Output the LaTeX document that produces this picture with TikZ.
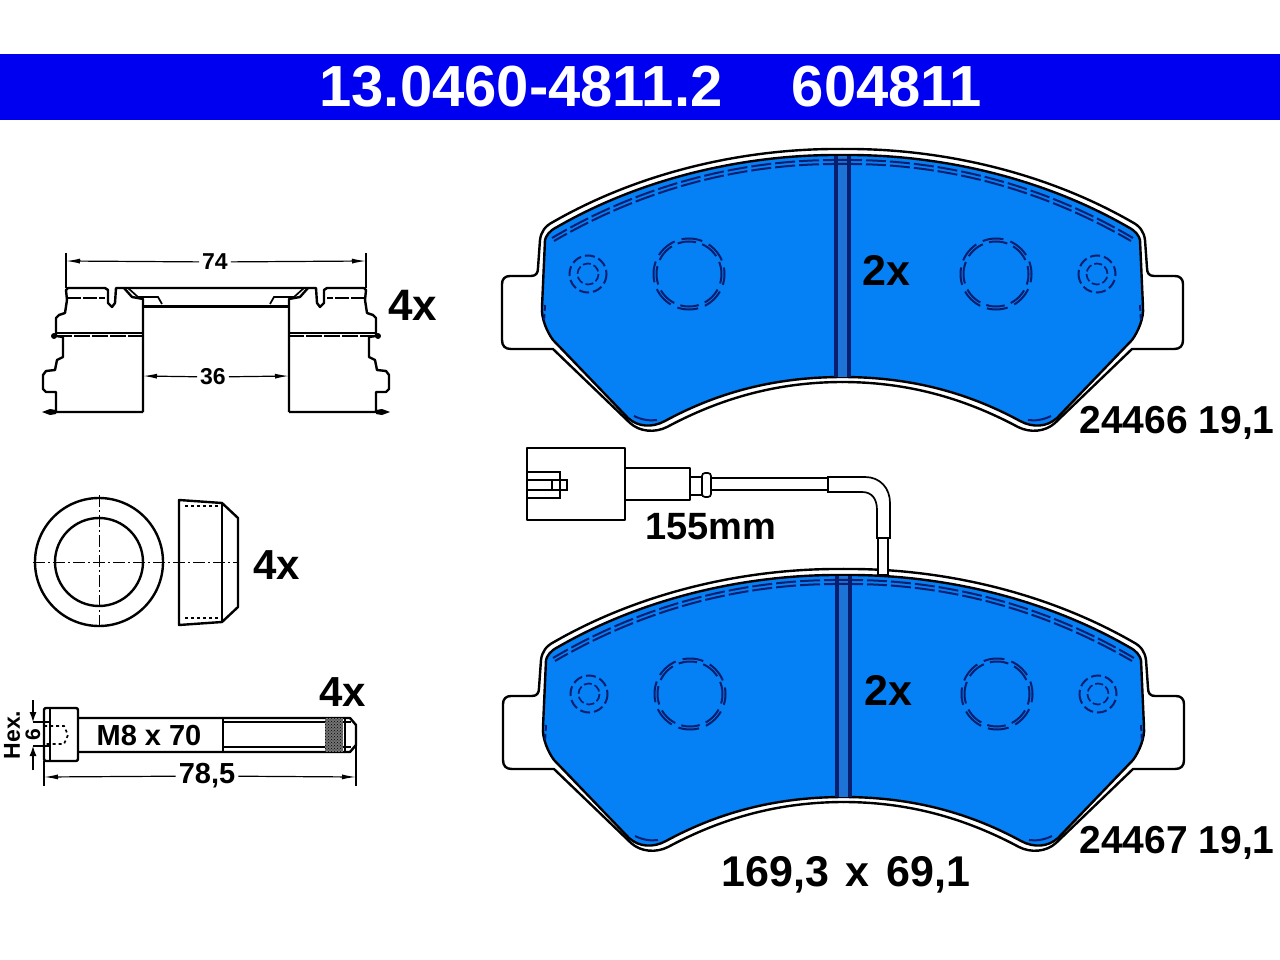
\documentclass[tikz,border=0pt]{standalone}
\usepackage{fontspec}
\setmainfont{Liberation Sans}
\usetikzlibrary{arrows.meta}
\usetikzlibrary{patterns}

\definecolor{bandblue}{RGB}{0,0,240}
\definecolor{padblue}{RGB}{5,128,245}
\definecolor{grooveblue}{RGB}{30,115,215}
\definecolor{navy}{RGB}{8,30,110}

\newcommand{\bigfont}[1]{\fontsize{#1}{#1}\selectfont\bfseries}

\tikzset{
    part/.style={draw=black,line width=2.4pt,line join=round},
    thin part/.style={draw=black,line width=1.7pt},
    dimline/.style={draw=black,line width=1.2pt,-{Latex[length=14pt,width=5pt]}},
    extline/.style={draw=black,line width=1.2pt},
    centerline/.style={draw=black,line width=1pt,dash pattern=on 12pt off 3pt on 2pt off 3pt},
    padmark/.style={draw=navy,line width=2pt},
    title/.style={font=\bigfont{58},text=white,inner sep=0pt},
    lbl/.style={font=\bigfont{#1},inner sep=0pt},
    dimlbl/.style={font=\bigfont{#1},inner sep=3pt},
}

% left half of a pad, the right one is its mirror image
\newcommand{\padbody}{
    \draw[part,fill=white] (843,149) .. controls (745,148) and (640,172) .. (553,222)
        .. controls (545,226) and (541,232) .. (540,240) -- (538,268)
        .. controls (538,273) and (536,276) .. (531,276) -- (510,276)
        .. controls (505,276) and (502,279) .. (502,284) -- (502,340)
        .. controls (502,346) and (505,349) .. (511,349) -- (553,349) -- (630,423)
        .. controls (640,432) and (655,433) .. (667,427)
        .. controls (723,397) and (780,382) .. (843,382);
    \draw[part,fill=padblue] (843,155) .. controls (745,154) and (642,178) .. (557,227)
        .. controls (549,231) and (546,236) .. (545,240) -- (542,307)
        .. controls (541,318) and (547,332) .. (553,340) -- (628,418)
        .. controls (638,427) and (652,428) .. (665,421)
        .. controls (722,390) and (780,377) .. (843,377);
}
\newcommand{\padmarks}{
    % rows along the top edge
    \draw[padmark,dash pattern=on 20pt off 4pt] (843,160) .. controls (745,159) and (645,183) .. (552,238);
    \draw[padmark,dash pattern=on 20pt off 4pt] (843,164) .. controls (745,163) and (647,187) .. (554,241);
    % edge and corner
    \draw[padmark,dash pattern=on 6pt off 3pt] (545,305) -- (544,322);
    \draw[padmark] (634,416) .. controls (642,420) and (650,421) .. (657,420);
    % big hole
    \draw[padmark,dash pattern=on 21pt off 7.3pt,dash phase=10pt] (689,274) circle[radius=35.5];
    \draw[padmark,dash pattern=on 18.6pt off 6.5pt,dash phase=9pt] (689,274) circle[radius=32.5];
    % small hole
    \draw[padmark,dash pattern=on 10pt off 4pt] (588,274) circle[radius=18.5];
    \draw[padmark,line width=1.7pt,dash pattern=on 8pt off 3pt] (588,274) circle[radius=10.5];
}

\begin{document}
\begin{tikzpicture}[x=1pt,y=-1pt]
    \useasboundingbox (0,0) rectangle (1280,960);
    % header
    \fill[bandblue] (0,54) rectangle (1280,120);
    \node[title] (partno) at (521,87) {13.0460-4811.2};
    \node[title] (refno) at (887,87) {604811};

    % pads
    \foreach \padx/\pady in {0/0,1/420} {
    \begin{scope}[shift={(\padx,\pady)}]
        \padbody
        \begin{scope}[xshift=1685pt,xscale=-1]
            \padbody
        \end{scope}
        \fill[grooveblue] (836,156) rectangle (849,377);
        \draw[navy,line width=3.4pt] (836,156) -- (836,377);
        \draw[navy,line width=3.4pt] (849,156) -- (849,377);
        \padmarks
        \begin{scope}[xshift=1685pt,xscale=-1]
            \padmarks
        \end{scope}
    \end{scope}
    }
    \node[lbl=43] (counttop) at (886,270) {2x};
    \node[lbl=43] (countlow) at (888,690) {2x};
    \node[lbl=39] (typetop) at (1177,423) {24466 19,1};
    \node[lbl=39] (typelow) at (1177,843) {24467 19,1};
    \node[lbl=43] (padsize) at (846,875) {169,3\hspace{5pt} x\hspace{5pt} 69,1};

    % wear sensor
    \draw[part] (527,448) rectangle (625,520);
    \draw[thin part] (527,472) -- (560,472) -- (560,498) -- (527,498);
    \draw[thin part] (527,480) -- (552,480);
    \draw[thin part] (527,490) -- (552,490);
    \draw[thin part] (552,480) rectangle (567,490);
    \draw[part] (625,468) rectangle (690,500);
    \draw[thin part] (690,477) rectangle (702,495);
    \draw[thin part,rounded corners=3pt] (702,473) rectangle (711,497);
    \draw[thin part] (711,478) -- (828,478);
    \draw[thin part] (711,490) -- (828,490);
    \draw[thin part] (828,492) -- (828,477) -- (865,477)
        .. controls (880,477) and (890,488) .. (890,503) -- (890,538) -- (877,538) -- (877,510)
        .. controls (877,499) and (872,492) .. (862,492) -- cycle;
    \draw[thin part,fill=white] (878,538) rectangle (888,575);
    \node[lbl=38] (wirelen) at (711,527) {155mm};

    % clip, left side and its mirror image
    \foreach \flip/\shift in {1/0,-1/432} {
    \begin{scope}[xshift=\shift pt,xscale=\flip]
        \draw[part] (143,412) -- (56,412) -- (56,392) -- (46,392) -- (43,389) -- (43,375) -- (46,371)
            -- (55,370) -- (57,360) -- (63,357) -- (63,337) -- (56,336) -- (56,318) -- (59,315) -- (65,313)
            -- (67,300) -- (66,290) -- (68,288) -- (105,288) -- (108,290) -- (108,303) -- (112,307)
            -- (115,303) -- (116,288) -- (216,288);
        \draw[part] (143,412) -- (143,299) -- (132,297) -- (124,288);
        \draw[thin part] (128,288) -- (138,297) -- (158,297) -- (162,304);
        \draw[thin part] (143,299) -- (143,304);
        \draw[part,line width=3pt] (143,306) -- (216,306);
        \draw[part] (56,333) -- (143,333);
        \draw[line width=2.6pt,dash pattern=on 16pt off 2pt] (56,336) -- (143,336);
        \draw[line width=2.6pt,dash pattern=on 14pt off 2pt] (67,298) -- (105,298);
        \fill (42,412) -- (50,409) -- (56,410) -- (56,414) -- (50,415) -- cycle;
        \fill (54,336) circle[radius=3];
    \end{scope}
    }
    % clip dimensions
    \node[dimlbl=23] (cliplen) at (215,262) {74};
    \coordinate (cliplenA) at (66,261);
    \coordinate (cliplenB) at (366,261);
    \draw[extline] (66,253) -- (66,288);
    \draw[extline] (366,253) -- (366,288);
    \draw[dimline] (cliplen) -- (cliplenA);
    \draw[dimline] (cliplen) -- (cliplenB);
    \node[dimlbl=23] (clipgap) at (213,377) {36};
    \coordinate (clipgapA) at (143,376);
    \coordinate (clipgapB) at (289,376);
    \draw[dimline] (clipgap) -- (clipgapA);
    \draw[dimline] (clipgap) -- (clipgapB);
    \node[lbl=44] (clipcount) at (413,305) {4x};

    % sleeve, front and side
    \draw[part] (99,562) circle[radius=64];
    \draw[part] (99,562) circle[radius=44];
    \draw[centerline] (33,562) -- (238,562);
    \draw[centerline] (99,495) -- (99,629);
    \draw[part] (179,500) -- (222,503) -- (238,518) -- (238,607) -- (222,622) -- (179,625) -- cycle;
    \draw[part] (222,503) -- (222,622);
    \draw[thin part,dashed] (185,506) -- (220,506);
    \draw[thin part,dashed] (185,618) -- (220,618);
    \node[lbl=42] (sleevecount) at (277,565) {4x};

    % bolt
    \draw[part,rounded corners=2pt] (44,708) rectangle (78,761);
    \draw[thin part] (50,708) -- (50,761);
    \draw[part] (78,718) -- (350,718) -- (356,725) -- (356,745) -- (350,752) -- (78,752);
    \draw[part] (223,718) -- (223,752);
    \draw[thin part] (223,722) -- (351,722);
    \draw[thin part] (223,747) -- (351,747);
    \fill[black!55] (325,718) rectangle (343,752);
    \fill[pattern=crosshatch dots,pattern color=black] (325,718) rectangle (343,752);
    \draw[thin part] (345,718) -- (345,752);
    \draw[thin part,dashed] (44,726) -- (64,726) -- (68,735) -- (64,744) -- (44,744);
    \draw[thin part] (33,722) -- (50,722);
    \draw[thin part] (33,746) -- (50,746);
    \node[lbl=29] (boltsize) at (149,736) {M8 x 70};
    \node[lbl=42] (boltcount) at (343,692) {4x};
    % bolt dimensions
    \node[lbl=21,rotate=90] (hexsize) at (33,735) {6};
    \node[lbl=23,rotate=90] (hexname) at (12,735) {Hex.};
    \coordinate (hexA) at (33,700);
    \coordinate (hexB) at (33,722);
    \coordinate (hexC) at (33,770);
    \coordinate (hexD) at (33,746);
    \draw[dimline,-{Latex[length=10pt,width=7pt]}] (hexA) -- (hexB);
    \draw[dimline,-{Latex[length=10pt,width=7pt]}] (hexC) -- (hexD);
    \node[dimlbl=29] (boltlen) at (207,776) {78,5};
    \coordinate (boltlenA) at (44,777);
    \coordinate (boltlenB) at (356,777);
    \draw[extline] (44,761) -- (44,786);
    \draw[extline] (356,745) -- (356,786);
    \draw[dimline] (boltlen) -- (boltlenA);
    \draw[dimline] (boltlen) -- (boltlenB);
\end{tikzpicture}
\end{document}
